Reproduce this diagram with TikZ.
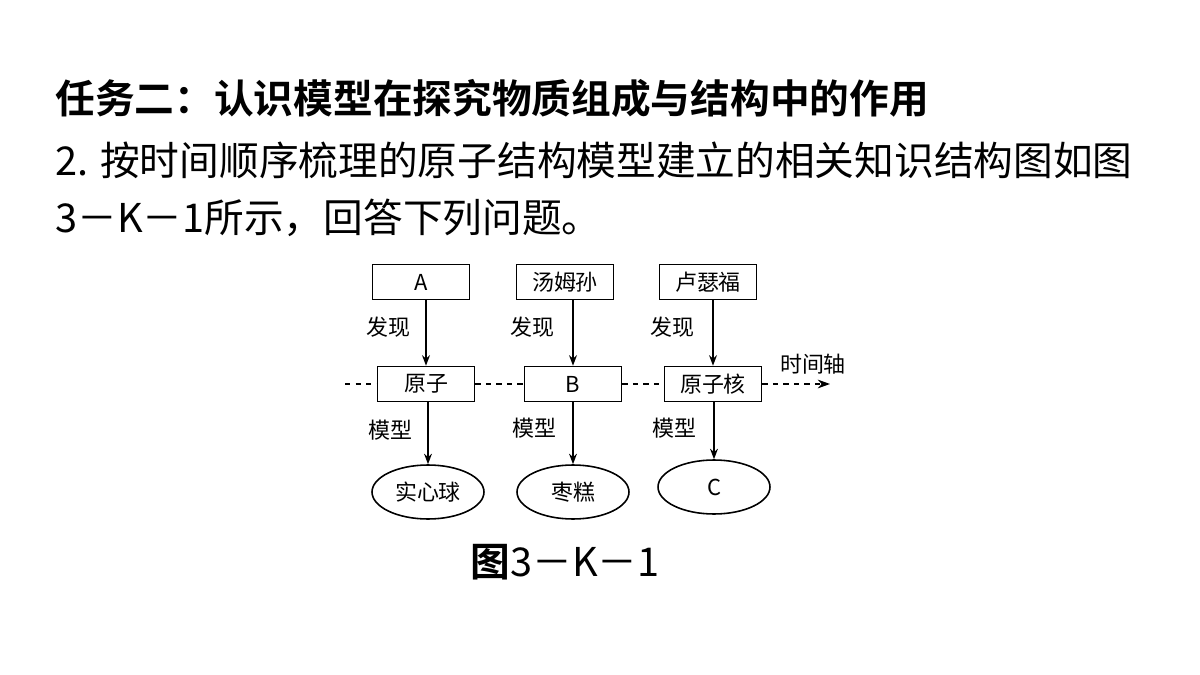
\documentclass[tikz,border=0pt]{standalone}
\usepackage{fontspec}
\newfontfamily\cjk{Noto Sans CJK SC}
\newfontfamily\cjkb{Noto Sans CJK SC Bold}
\usetikzlibrary{arrows.meta,shapes.geometric}
\begin{document}
\begin{tikzpicture}[x=0.02cm,y=-0.02cm,
 bx/.style={draw,line width=0.9pt,minimum width=1.94cm,minimum height=0.7cm,inner sep=0,font=\cjk\fontsize{12.5}{14}\selectfont},
 el/.style={draw,ellipse,line width=0.9pt,minimum width=2.24cm,minimum height=1.08cm,inner sep=0,font=\cjk\fontsize{12.5}{14}\selectfont},
 lb/.style={font=\cjk\fontsize{12.5}{14}\selectfont},
 ar/.style={-{Stealth[length=6pt,width=4.5pt]},line width=0.8pt}]
\useasboundingbox (0,0) rectangle (1200,675);
\node[anchor=west,inner sep=0,font=\cjkb\fontsize{22.6}{26}\selectfont] (t1) at (55,98) {任务二：认识模型在探究物质组成与结构中的作用};
\node[anchor=west,inner sep=0,font=\cjk\fontsize{22.6}{26}\selectfont] (t2) at (55,160) {\textit{2.} 按时间顺序梳理的原子结构模型建立的相关知识结构图如图};
\node[anchor=west,inner sep=0,font=\cjk\fontsize{22.6}{26}\selectfont] (t3) at (55,218) {3－K－1所示，回答下列问题。};
\node[bx] (a) at (421,282) {A};
\node[bx] (b) at (565,282) {汤姆孙};
\node[bx] (c) at (708,282) {卢瑟福};
\node[bx] (m1) at (426,384) {原子};
\node[bx] (m2) at (573,384) {B};
\node[bx] (m3) at (713,384) {原子核};
\node[el] (e1) at (428,492) {实心球};
\node[el] (e2) at (573,492) {枣糕};
\node[el] (e3) at (714,487) {C};
\coordinate (s) at (345,384); \coordinate (e) at (830,384);
\draw[dashed,line width=0.8pt] (s) -- (m1.west);
\draw[dashed,line width=0.8pt] (m1.east) -- (m2.west);
\draw[dashed,line width=0.8pt] (m2.east) -- (m3.west);
\draw[dashed,line width=0.8pt,-{Stealth[length=7pt,width=5pt]}] (m3.east) -- (e);
\node[lb] (tz) at (813,364) {时间轴};
\draw[ar] (a.south -| m1.north) -- (m1.north);
\draw[ar] (b.south -| m2.north) -- (m2.north);
\draw[ar] (c.south -| m3.north) -- (m3.north);
\draw[ar] (m1.south -| e1.north) -- (e1.north);
\draw[ar] (m2.south) -- (e2.north);
\draw[ar] (m3.south -| e3.north) -- (e3.north);
\node[lb] (f1) at (388,327) {发现};
\node[lb] (f2) at (532,327) {发现};
\node[lb] (f3) at (672,327) {发现};
\node[lb] (x1) at (390,430) {模型};
\node[lb] (x2) at (534,428) {模型};
\node[lb] (x3) at (674,428) {模型};
\node[font=\cjk\fontsize{22.6}{26}\selectfont] (cap) at (565,562) {{\cjkb 图}3－K－1};
\end{tikzpicture}
\end{document}
